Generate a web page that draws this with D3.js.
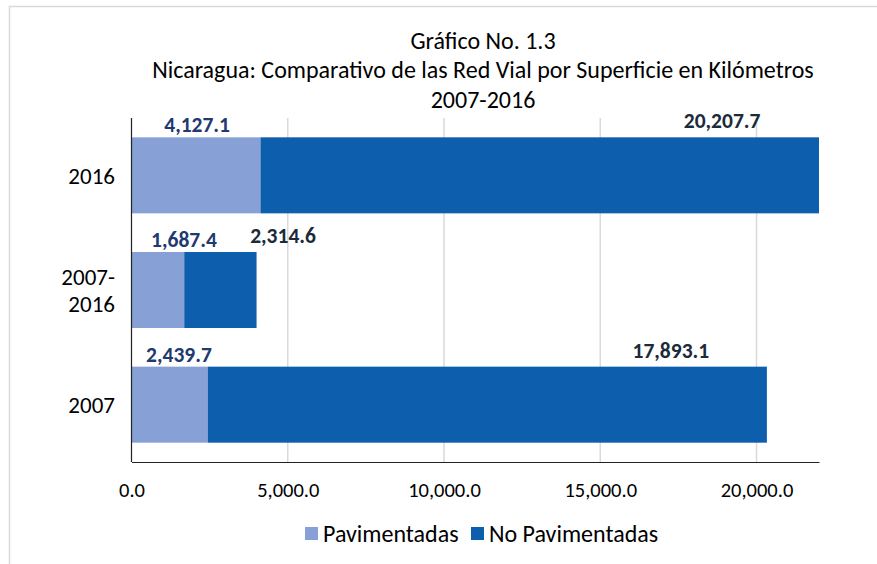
<!DOCTYPE html>
<html>
<head>
<meta charset="utf-8">
<script src="https://cdn.jsdelivr.net/npm/d3@7"></script>
<style>
  body { margin: 0; background: #fff; }
  text { font-family: Carlito, Calibri, Lato, sans-serif; }
</style>
</head>
<body>
<div id="chart"></div>
<script>
// data
var categories = ["2016", "2007-2016", "2007"];
var pavimentadas = [4127.1, 1687.4, 2439.7];
var noPavimentadas = [20207.7, 2314.6, 17893.1];
var seriesNames = ["Pavimentadas", "No Pavimentadas"];
var tickValues = [0, 5000, 10000, 15000, 20000];
var titleLines = ["Gráfico No. 1.3",
  "Nicaragua: Comparativo de las Red Vial por Superficie en Kilómetros",
  "2007-2016"];
// where each data label sits along the axis (km units)
var pavLabelAt = [2100, 1680, 1520];
var noPavLabelAt = [18900, 4850, 17260];

var W = 877, H = 564;
var colors = ["#87a1d6", "#0d5fad"];
var labelColors = ["#1f3a70", "#1b2b3a"];
var fmt = d3.format(",.1f");

var svg = d3.select("#chart")
  .append("svg")
    .attr("width", W)
    .attr("height", H);

// outer frame
svg.append("rect")
  .attr("x", 9.5).attr("y", 6.5)
  .attr("width", W + 20).attr("height", H + 20)
  .attr("fill", "none")
  .attr("stroke", "#d9d9d9")
  .attr("stroke-width", 1.5);

var x = d3.scaleLinear()
  .domain([0, 22000])
  .range([131.5, 819]);

var y = d3.scaleBand()
  .domain(categories)
  .range([118, 462])
  .paddingInner(0.337)
  .paddingOuter(0.1685);

// titles
svg.selectAll(".title")
  .data(titleLines)
  .enter()
  .append("text")
    .attr("x", 483)
    .attr("y", function(d, i) { return 48.5 + i * 29.5; })
    .attr("text-anchor", "middle")
    .attr("font-size", 24)
    .attr("fill", "#000")
    .text(function(d) { return d; });

// gridlines
svg.append("g")
  .selectAll("line")
  .data(tickValues.slice(1))
  .enter()
  .append("line")
    .attr("x1", function(d) { return x(d); })
    .attr("x2", function(d) { return x(d); })
    .attr("y1", 118)
    .attr("y2", 462)
    .attr("stroke", "#d9d9d9")
    .attr("stroke-width", 1.5);

svg.append("clipPath")
  .attr("id", "plotclip")
  .append("rect")
    .attr("x", x(0)).attr("y", 100)
    .attr("width", x(22000) - x(0)).attr("height", 380);

var stackData = categories.map(function(c, i) {
  return { cat: c, p: pavimentadas[i], n: noPavimentadas[i] };
});

var bars = svg.append("g").attr("clip-path", "url(#plotclip)");

bars.selectAll(".pav")
  .data(stackData)
  .enter()
  .append("rect")
    .attr("x", x(0))
    .attr("y", function(d) { return y(d.cat); })
    .attr("width", function(d) { return x(d.p) - x(0); })
    .attr("height", y.bandwidth())
    .attr("fill", colors[0]);

bars.selectAll(".nopav")
  .data(stackData)
  .enter()
  .append("rect")
    .attr("x", function(d) { return x(d.p); })
    .attr("y", function(d) { return y(d.cat); })
    .attr("width", function(d) { return x(d.p + d.n) - x(d.p); })
    .attr("height", y.bandwidth())
    .attr("fill", colors[1]);

// axes
var xAxis = svg.append("g")
  .attr("transform", "translate(0,462)")
  .call(d3.axisBottom(x).tickValues(tickValues).tickSize(0).tickPadding(20)
    .tickFormat(fmt));
xAxis.select(".domain").attr("stroke", "#222").attr("stroke-width", 1.2);
xAxis.selectAll("text")
  .attr("font-size", 20.5)
  .attr("fill", "#000")
  .style("font-family", "Carlito, Calibri, Lato, sans-serif");

svg.append("line")
  .attr("x1", x(0)).attr("x2", x(0))
  .attr("y1", 118).attr("y2", 462)
  .attr("stroke", "#222")
  .attr("stroke-width", 1.2);

// category labels
svg.selectAll(".cat")
  .data(categories)
  .enter()
  .append("text")
    .attr("x", 115)
    .attr("y", function(d) { return y(d) + y.bandwidth() / 2; })
    .attr("text-anchor", "end")
    .attr("font-size", 23)
    .attr("fill", "#000")
    .each(function(d) {
      var parts = d.indexOf("-") > 0 ? [d.split("-")[0] + "-", d.split("-")[1]] : [d];
      var t = d3.select(this);
      parts.forEach(function(p, i) {
        t.append("tspan")
          .attr("x", 115)
          .attr("dy", i === 0 ? (8.2 - (parts.length - 1) * 13.5) : 27)
          .text(p);
      });
    });

// data labels
svg.selectAll(".lblp")
  .data(stackData)
  .enter()
  .append("text")
    .attr("x", function(d, i) { return x(pavLabelAt[i]); })
    .attr("y", function(d) { return y(d.cat) - 5; })
    .attr("text-anchor", "middle")
    .attr("font-size", 21.5)
    .attr("font-weight", "bold")
    .attr("fill", labelColors[0])
    .text(function(d) { return fmt(d.p); });

svg.selectAll(".lbln")
  .data(stackData)
  .enter()
  .append("text")
    .attr("x", function(d, i) { return x(noPavLabelAt[i]); })
    .attr("y", function(d) { return y(d.cat) - 9; })
    .attr("text-anchor", "middle")
    .attr("font-size", 21.5)
    .attr("font-weight", "bold")
    .attr("fill", labelColors[1])
    .text(function(d) { return fmt(d.n); });

// legend
var legend = svg.append("g");
var lx = [305, 471];
seriesNames.forEach(function(name, i) {
  legend.append("rect")
    .attr("x", lx[i]).attr("y", 527)
    .attr("width", 13).attr("height", 13)
    .attr("fill", colors[i]);
  legend.append("text")
    .attr("x", lx[i] + 18).attr("y", 541.5)
    .attr("font-size", 24)
    .attr("fill", "#000")
    .text(name);
});
</script>
</body>
</html>
